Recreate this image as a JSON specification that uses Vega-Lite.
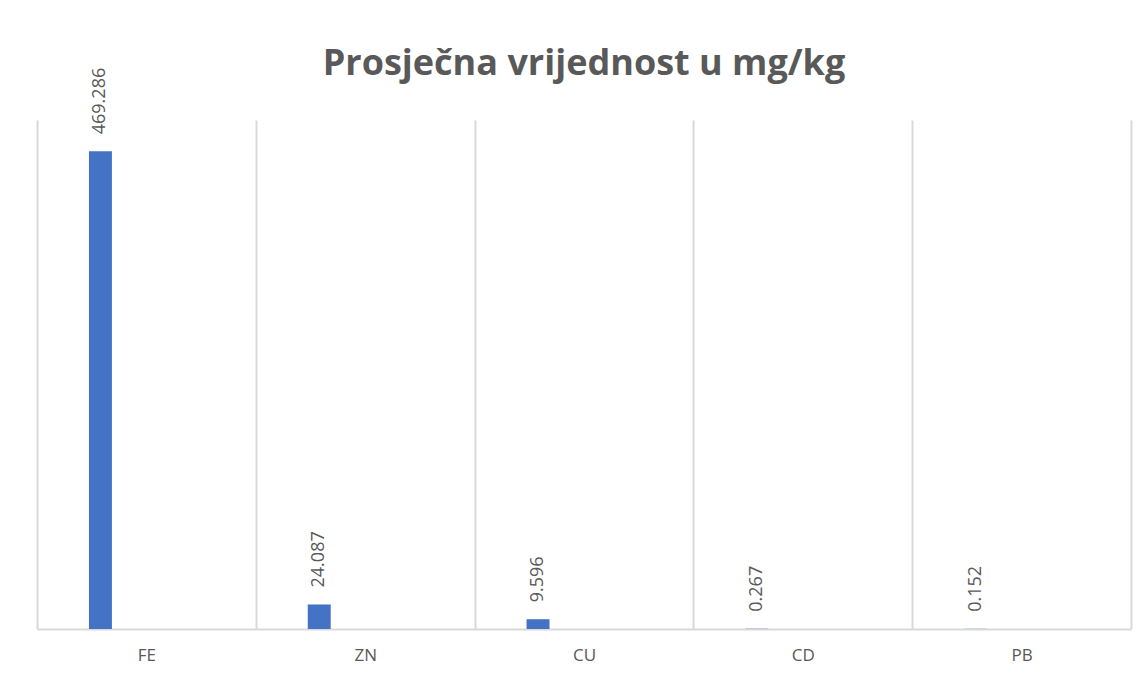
{
  "$schema": "https://vega.github.io/schema/vega-lite/v6.json",
  "width": 1094,
  "height": 509,
  "autosize": {"type": "none"},
  "padding": {"left": 37, "top": 120, "right": 16, "bottom": 51},
  "background": "white",
  "config": {"view": {"stroke": null}},
  "title": {
    "text": "Prosječna vrijednost u mg/kg",
    "font": "Open Sans",
    "fontSize": 36,
    "fontWeight": "bold",
    "color": "#595959",
    "anchor": "middle",
    "offset": -15
  },
  "data": {
    "values": [
      {"element": "FE", "serija": "S1", "vrijednost": 469.286},
      {"element": "ZN", "serija": "S1", "vrijednost": 24.087},
      {"element": "CU", "serija": "S1", "vrijednost": 9.596},
      {"element": "CD", "serija": "S1", "vrijednost": 0.267},
      {"element": "PB", "serija": "S1", "vrijednost": 0.152}
    ]
  },
  "encoding": {
    "x": {
      "field": "element",
      "type": "nominal",
      "sort": null,
      "title": null,
      "scale": {"paddingInner": 0, "paddingOuter": 0},
      "axis": {
        "tickBand": "extent",
        "ticks": false,
        "grid": true,
        "gridColor": "#d9d9d9",
        "gridWidth": 2,
        "domainColor": "#d9d9d9",
        "domainWidth": 2,
        "labelAngle": 0,
        "labelFont": "Open Sans",
        "labelFontSize": 17,
        "labelColor": "#595959",
        "labelPadding": 18
      }
    },
    "xOffset": {
      "field": "serija",
      "type": "nominal",
      "scale": {"domain": ["_1", "_2", "S1", "_3", "_4", "_5", "_6", "_7", "_8"], "paddingInner": 0, "paddingOuter": 0.26}
    },
    "y": {
      "field": "vrijednost",
      "type": "quantitative",
      "scale": {"domain": [0, 500], "nice": false},
      "axis": null
    }
  },
  "layer": [
    {"mark": {"type": "bar", "color": "#4472C4"}},
    {
      "mark": {
        "type": "text",
        "angle": 270,
        "align": "left",
        "baseline": "middle",
        "dx": 17,
        "font": "Open Sans",
        "fontSize": 18,
        "color": "#595959"
      },
      "encoding": {
        "text": {"field": "vrijednost", "type": "quantitative", "format": ".3f"}
      }
    }
  ]
}
